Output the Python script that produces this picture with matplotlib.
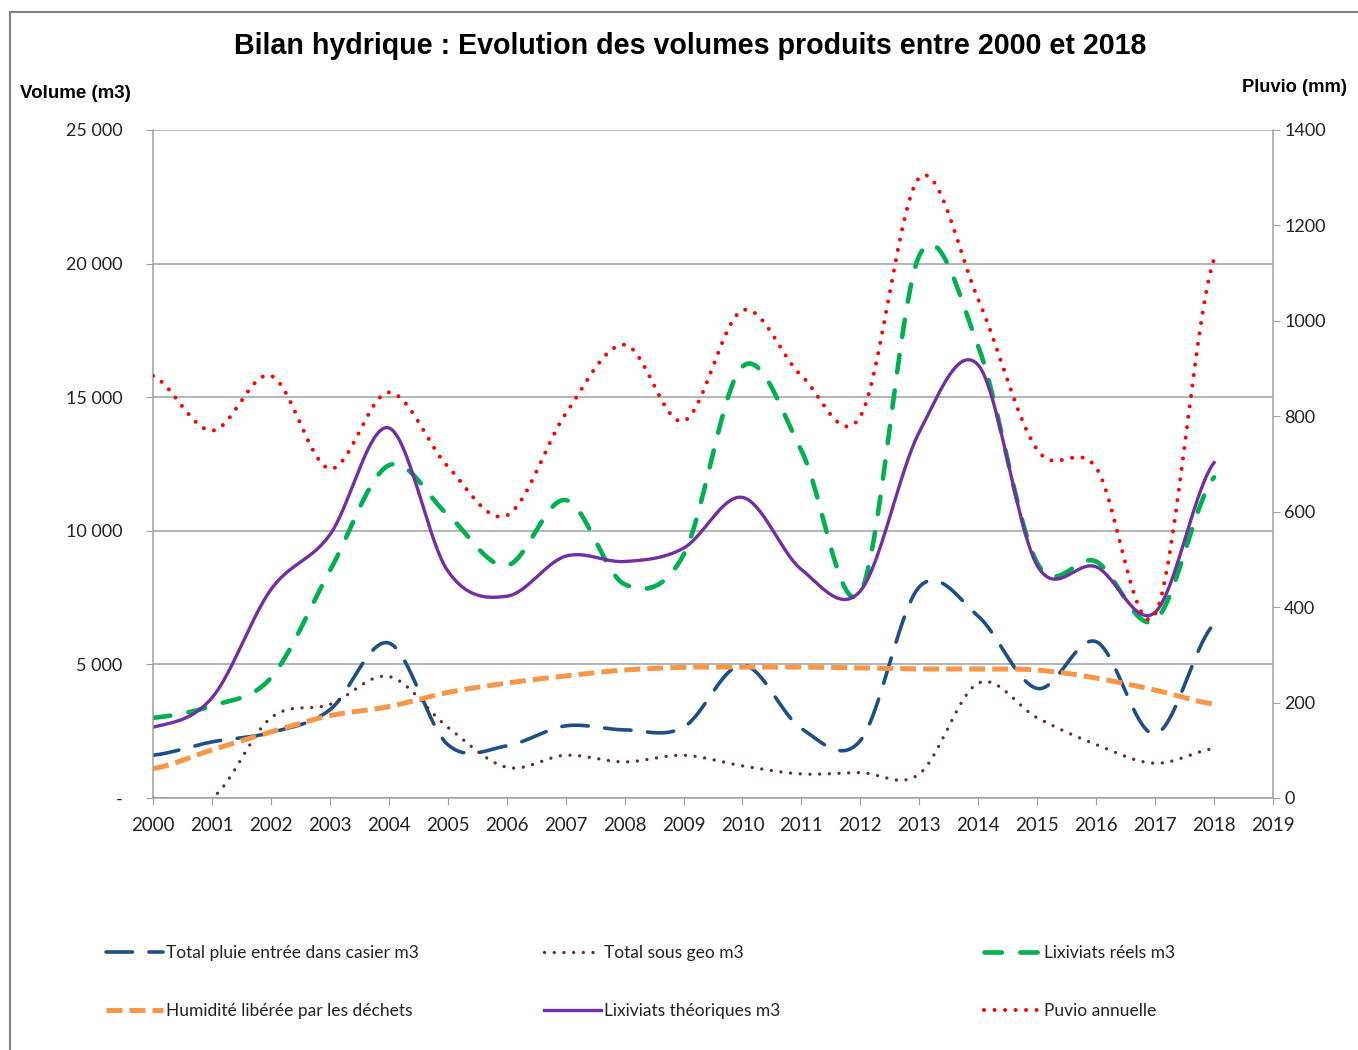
import numpy as np
import matplotlib.pyplot as plt
from matplotlib.patches import Rectangle

years = list(range(2000, 2019))

pluie_entree = [1600, 2100, 2450, 3300, 5800, 2000, 1950, 2700, 2550, 2650,
                4980, 2600, 2150, 7900, 6800, 4100, 5850, 2400, 6500]
sous_geo = [0, 0, 3000, 3500, 4550, 2650, 1150, 1600, 1350, 1600,
            1200, 900, 950, 900, 4300, 3000, 2000, 1300, 1850]
lixiviats_reels = [3000, 3450, 4500, 8500, 12450, 10600, 8700, 11150, 8000, 9100,
                   16150, 13000, 7700, 20300, 16900, 8800, 8850, 6650, 12000]
humidite = [1100, 1800, 2470, 3080, 3420, 3950, 4300, 4570, 4790, 4890,
            4900, 4900, 4870, 4830, 4830, 4790, 4490, 4040, 3520]
lixiviats_theo = [2650, 3750, 7800, 9850, 13850, 8500, 7550, 9050, 8850, 9350,
                  11250, 8550, 7750, 13700, 16200, 8700, 8650, 6950, 12550]
pluvio = [885, 770, 885, 690, 850, 695, 592, 805, 950, 790,
          1022, 885, 800, 1300, 1045, 730, 692, 385, 1130]

legend_labels = ["Total pluie entrée dans casier m3", "Total sous geo m3",
                 "Lixiviats réels m3", "Humidité libérée par les déchets",
                 "Lixiviats théoriques m3", "Puvio annuelle"]


def smooth(x, y, n=40):
    # Excel-like smoothed line (Catmull-Rom through the points)
    x = np.asarray(x, float)
    y = np.asarray(y, float)
    xs, ys = [], []
    for i in range(len(y) - 1):
        p0 = y[i - 1] if i > 0 else y[i]
        p1, p2 = y[i], y[i + 1]
        p3 = y[i + 2] if i + 2 < len(y) else y[i + 1]
        m1 = (p2 - p0) / 2
        m2 = (p3 - p1) / 2
        t = np.linspace(0, 1, n, endpoint=False)
        h00 = 2 * t**3 - 3 * t**2 + 1
        h10 = t**3 - 2 * t**2 + t
        h01 = -2 * t**3 + 3 * t**2
        h11 = t**3 - t**2
        ys.append(h00 * p1 + h10 * m1 + h01 * p2 + h11 * m2)
        xs.append(x[i] + t * (x[i + 1] - x[i]))
    xs.append([x[-1]])
    ys.append([y[-1]])
    return np.concatenate(xs), np.concatenate(ys)


plt.rcParams['font.family'] = ['Lato', 'DejaVu Sans']

fig = plt.figure(figsize=(13.58, 10.5), dpi=100)
ax = fig.add_axes([153 / 1358, 1 - 798 / 1050, 1120 / 1358, 668 / 1050])
ax2 = ax.twinx()

gray = '#A0A0A0'

x, y = smooth(years, pluie_entree)
l1, = ax.plot(x, y, color='#1F4E85', lw=2.6, dashes=(7.3, 4.6),
              dash_capstyle='round')
x, y = smooth(years, sous_geo)
l2, = ax.plot(x, y, color='#6B2A2A', lw=2.4, dashes=(0.01, 2.9),
              dash_capstyle='round')
x, y = smooth(years, lixiviats_reels)
l3, = ax.plot(x, y, color='#00B050', lw=3.3, dashes=(3.8, 4.0),
              dash_capstyle='round')
x, y = smooth(years, humidite)
l4, = ax.plot(x, y, color='#F79646', lw=3.6, dashes=(3.2, 1.4),
              dash_capstyle='butt')
x, y = smooth(years, lixiviats_theo)
l5, = ax.plot(x, y, color='#7030A0', lw=2.4)
x, y = smooth(years, pluvio)
l6, = ax2.plot(x, y, color='#FF0000', lw=2.9, dashes=(0.01, 2.6),
               dash_capstyle='round')

ax.set_xlim(2000, 2019)
ax.set_ylim(0, 25000)
ax2.set_ylim(0, 1400)
ax.set_xticks(range(2000, 2020))
ax.set_yticks(range(0, 25001, 5000))
ax2.set_yticks(range(0, 1401, 200))
ax.set_yticklabels(['-' if v == 0 else f"{v:,}".replace(',', ' ')
                    for v in range(0, 25001, 5000)])

ax.yaxis.grid(True, color=gray, lw=1.1)
ax.set_axisbelow(True)
for a in (ax, ax2):
    for s in a.spines.values():
        s.set_color(gray)
        s.set_linewidth(1.1)
    a.spines['top'].set_visible(False)
ax.spines['right'].set_visible(False)
ax2.spines['left'].set_visible(False)
ax2.spines['bottom'].set_visible(False)

ax.tick_params(axis='x', length=5, color=gray, labelsize=13.5, pad=9,
               labelcolor='#222222')
ax.tick_params(axis='y', length=5, color=gray, labelsize=13, pad=17,
               labelcolor='#222222')
ax2.tick_params(axis='y', length=5, color=gray, labelsize=13, pad=3,
                labelcolor='#222222')

fig.text(0.508, 1 - 46 / 1050, "Bilan hydrique : Evolution des volumes produits entre 2000 et 2018",
         ha='center', va='center', fontsize=20.6, fontweight='bold',
         family='Liberation Sans')
fig.text(20 / 1358, 1 - 93 / 1050, "Volume (m3)", ha='left', va='center',
         fontsize=13.5, fontweight='bold', family='Liberation Sans')
fig.text(1347 / 1358, 1 - 88 / 1050, "Pluvio (mm)", ha='right', va='center',
         fontsize=13.2, fontweight='bold', family='Liberation Sans')

handles = [l1, l2, l3, l4, l5, l6]
col_x = [106, 544, 984]
for c in range(3):
    leg = fig.legend([handles[c], handles[c + 3]],
                     [legend_labels[c], legend_labels[c + 3]],
                     loc='upper left',
                     bbox_to_anchor=(col_x[c] / 1358, 1 - 945 / 1050),
                     frameon=False, fontsize=12.5, handlelength=3.3,
                     handletextpad=0.15, labelspacing=2.4, borderpad=0,
                     borderaxespad=0)
    for t in leg.get_texts():
        t.set_color('#222222')

fig.add_artist(Rectangle((10 / 1358, -0.02), 1.0, 1 - 12 / 1050 + 0.02,
                         transform=fig.transFigure, fill=False,
                         edgecolor='#808080', lw=1.5))

fig.savefig('out.png', dpi=100)
